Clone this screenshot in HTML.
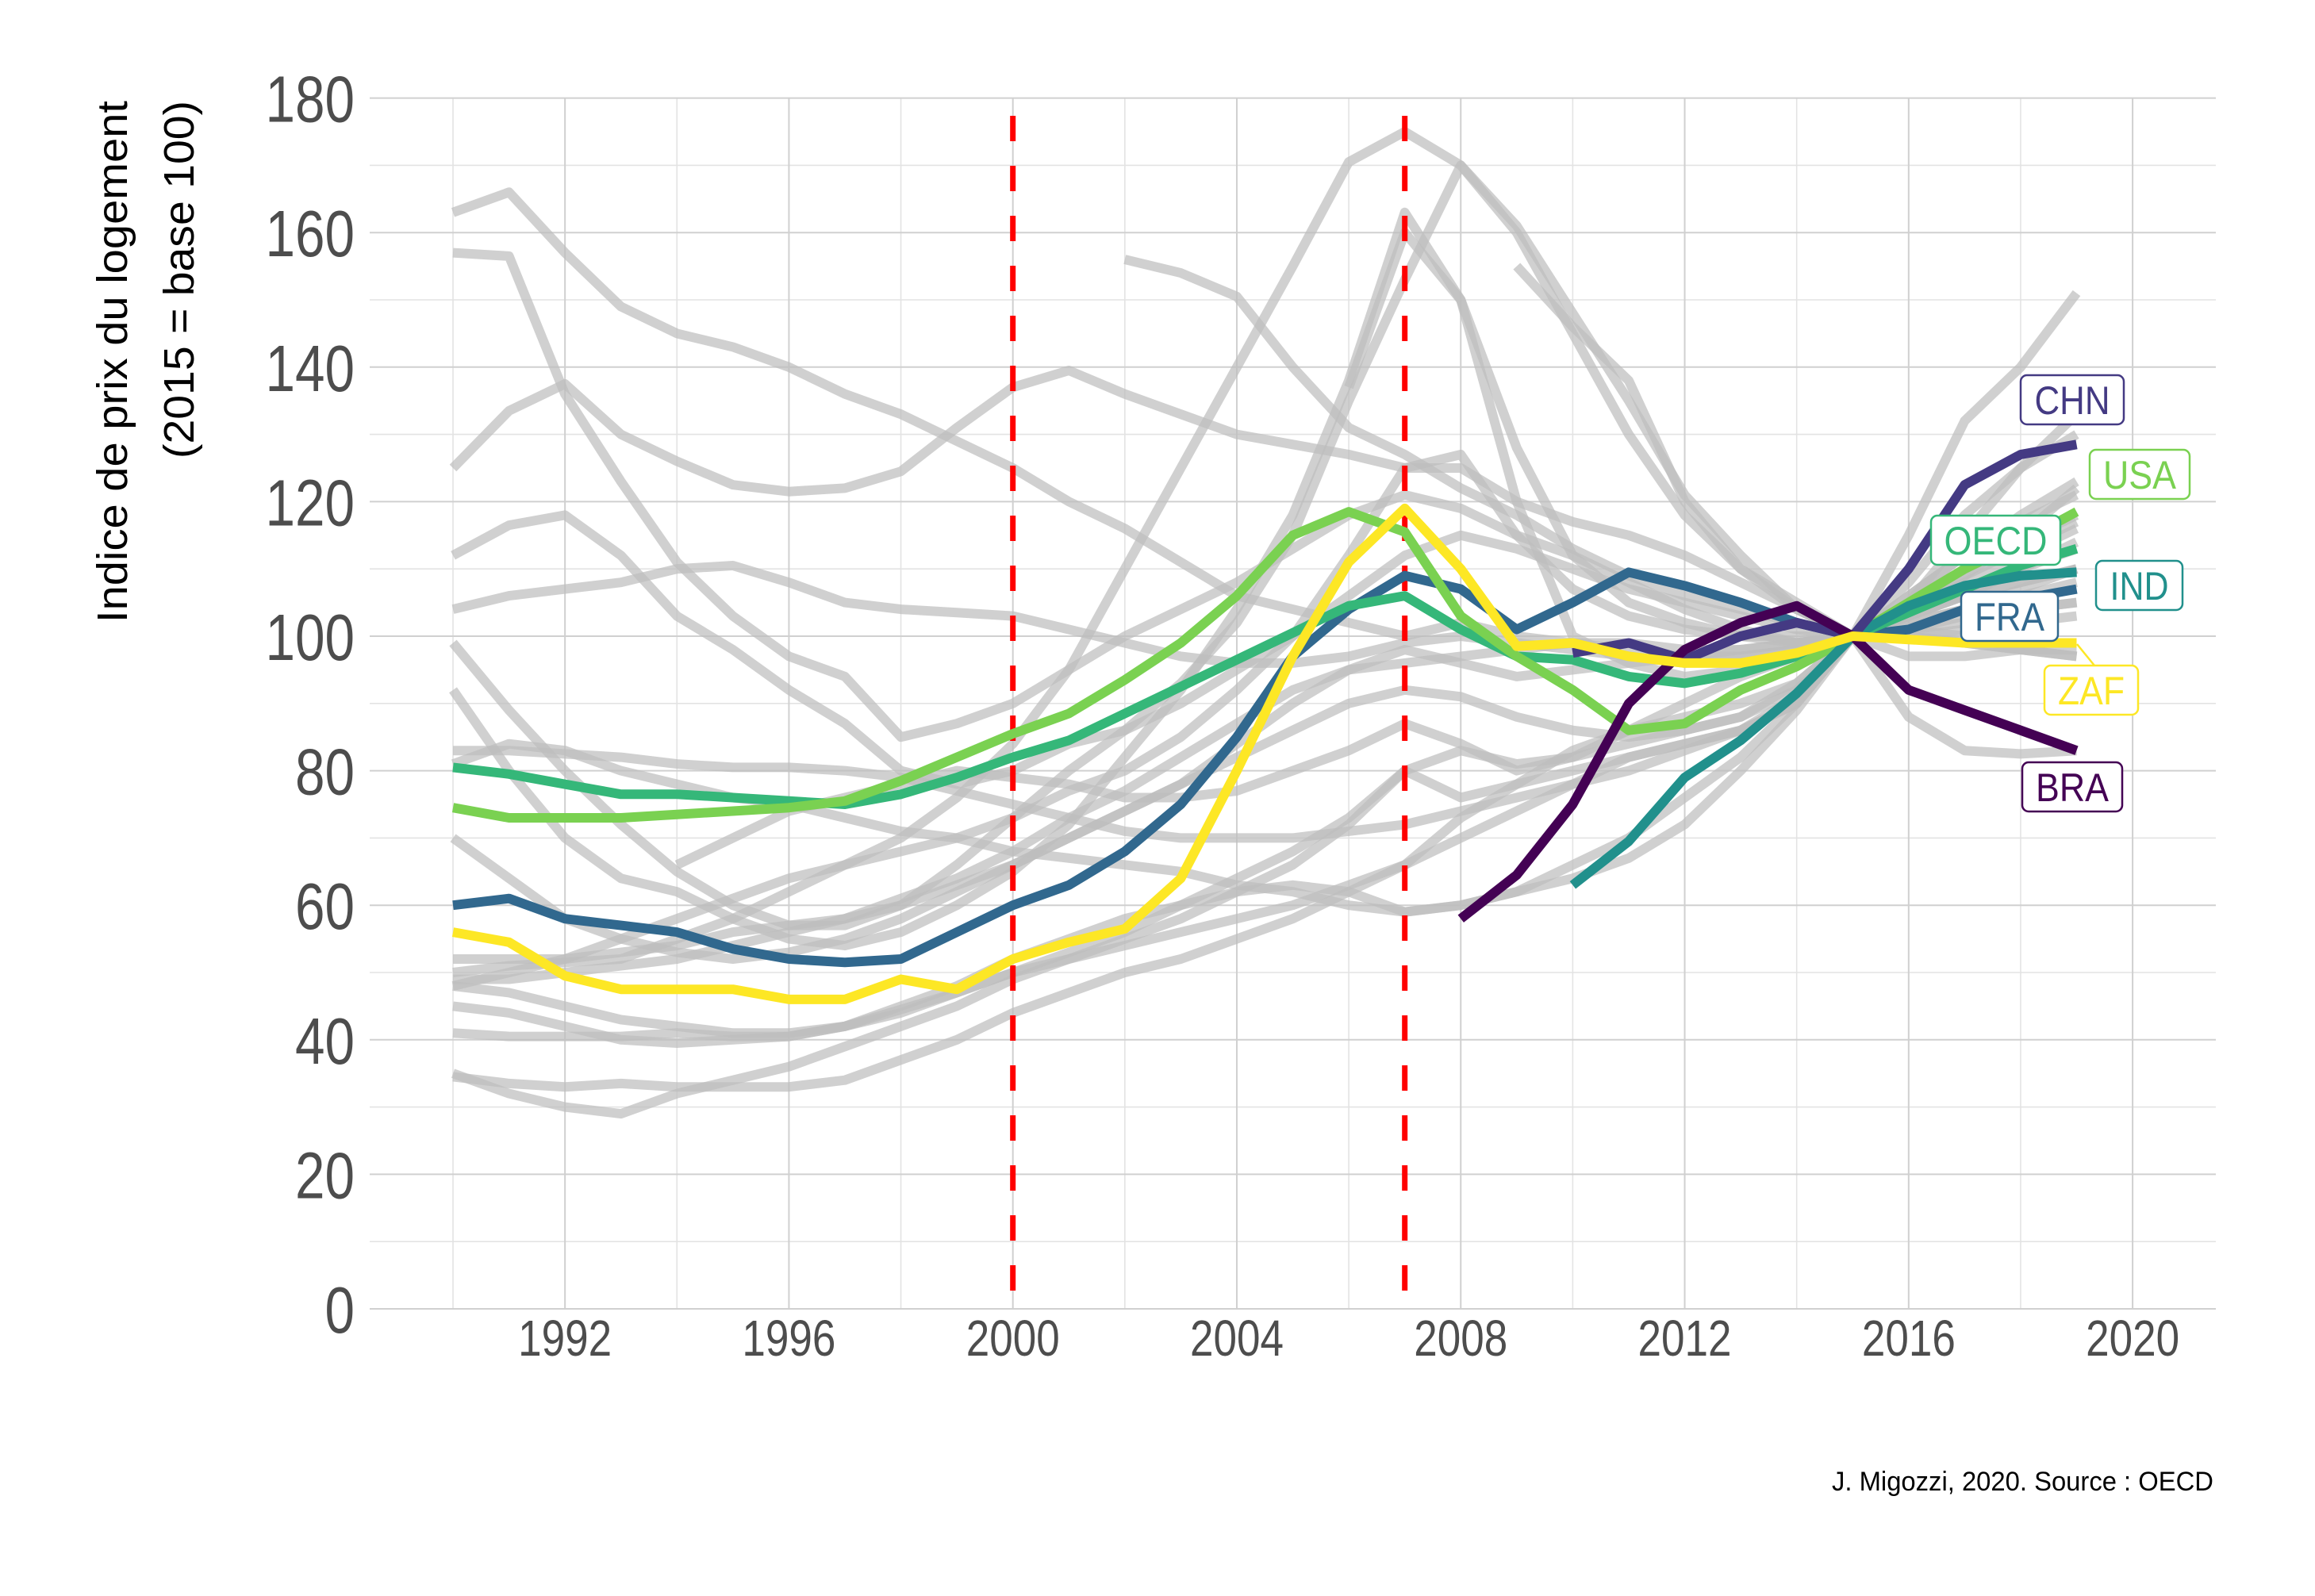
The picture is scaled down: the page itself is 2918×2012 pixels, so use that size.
<!DOCTYPE html>
<html><head><meta charset="utf-8"><style>
html,body{margin:0;padding:0;background:#fff;}
svg{display:block;}
.nar{font-family:"Liberation Sans Narrow","Liberation Sans",sans-serif;}
</style></head><body>
<svg id="chart" width="2918" height="2012" viewBox="0 0 2918 2012" xmlns="http://www.w3.org/2000/svg">
<rect width="2918" height="2012" fill="#fff"/>
<g id="grid"></g>
<g id="axes"></g>
<g id="grey"></g>
<g id="refs"></g>
<g id="hl"></g>
<g id="labels"></g>
<g font-family="Liberation Sans, sans-serif" font-size="54" fill="#000">
<text transform="translate(160,127) rotate(-90)" text-anchor="end" textLength="658" lengthAdjust="spacingAndGlyphs">Indice de prix du logement</text>
<text transform="translate(244,127) rotate(-90)" text-anchor="end" textLength="451" lengthAdjust="spacingAndGlyphs">(2015 = base 100)</text>
</g>
<text class="nar" x="2790" y="1879" font-size="34" text-anchor="end" fill="#000" textLength="481" lengthAdjust="spacingAndGlyphs">J. Migozzi, 2020. Source : OECD</text>
</svg>
<script>
const years = [1990,1991,1992,1993,1994,1995,1996,1997,1998,1999,2000,2001,2002,2003,2004,2005,2006,2007,2008,2009,2010,2011,2012,2013,2014,2015,2016,2017,2018,2019];
const yTicks = [0,20,40,60,80,100,120,140,160,180];
const xTicks = [1992,1996,2000,2004,2008,2012,2016,2020];
const refYears = [2000,2007];
const _ = null;
const FRA = [60,61,58,57,56,53.5,52,51.5,52,56,60,63,68,75,85,97,104,109,107,101,105,109.5,107.5,105,102,100,101,104,105.5,107];
const ZAF = [56,54.5,49.5,47.5,47.5,47.5,46,46,49,47.5,52,54.5,56.5,64,80,97,111,119,110,98.5,99,97,96,96,97.5,100,99.5,99,99,99];
const USA = [74.5,73,73,73,73.5,74,74.5,75.5,78.5,82,85.5,88.5,93.5,99,106,115,118.5,115.5,103,97,92,86,87,92,95.5,100,105,110,114,118.5];
const OECD = [80.5,79.5,78,76.5,76.5,76,75.5,75,76.5,79,82,84.5,88.5,92.5,96.5,100.5,104.5,106,101,97,96.5,94,93,94.5,97,100,103.5,107,110.5,113];
const IND = [_,_,_,_,_,_,_,_,_,_,_,_,_,_,_,_,_,_,_,_,63,69.5,79,84.5,91.5,100,104.5,107.5,109,109.5];
const CHN = [_,_,_,_,_,_,_,_,_,_,_,_,_,_,_,_,_,_,_,_,97.5,99,96.5,100,102,100,110,122.5,127,128.5];
const BRA = [_,_,_,_,_,_,_,_,_,_,_,_,_,_,_,_,_,_,58,64.5,75,90,98,102,104.5,100,92,89,86,83];
const G1 = [163,166,157,149,145,143,140,136,133,129,125,120,116,111,106,104,102,100,102,100,99,98,97,97,98,100,100,99,98,97];
const G2 = [157,156.5,136,123,111,103,97,94,85,87,90,95,100,104,108,113,118,121,119,115,112,108,104,101,99,100,104,109,113,117];
const G3 = [125,133.5,137.5,130,126,122.5,121.5,122,124.5,131,137,139.5,136,133,130,128.5,127,125,125,120,117,115,112,108,104,100,101,100,99,99];
const G4 = [112,116.5,118,112,103,98,92,87,80,78,80,84,86,90,95,100,106,112,115,113,110,107,105,103,101,100,103,106,110,113];
const G5 = [104,106,107,108,110,110.5,108,105,104,103.5,103,101,99,97,96,96,97,99,100,99,98,97,96,97,98,100,103,106,108,110];
const G6 = [99,89,80,72,65,60,57,57,60,66,73,80,86,93,102,115,135,153,170,161,148,135,121,112,104,100,103,109,115,122];
const G7 = [92,80,70,64,62,58,55,54,56,60,65,72,82,92,104,118,138,163,150,120,100,96,94,95,97,100,104,108,112,116];
const G8 = [83,83,82.5,82,81,80.5,80.5,80,79,77,75,73,71,70,70,70,71,72,74,76,78,80,83,86,91,100,115,132,140,151];
const G9 = [70,64,58,55,53,52,53,55,58,62,66,70,74,78,82,86,90,92,91,88,86,85,86,88,93,100,108,118,125,130];
const G10 = [49,49,50,51,52,54,56,58,61,64,68,73,77,82,87,92,95,96,97,98,99,99,98,98,99,100,100,99,98,97];
const G11 = [48,47,45,43,42,41,41,42,44,47,50,53,56,60,64,68,73,80,83,81,82,84,86,88,92,100,106,112,117,121];
const G12 = [45,44,42,40,39.5,40,40.5,42,44.5,47,50,52,54,56,58,60,63,66,70,74,78,82,84,86,90,100,88,83,82.5,83];
const G13 = [35,32,30,29,32,34,36,39,42,45,49,52,55,58,62,66,72,80,76,78,80,82,84,86,90,100,104,106,108,110];
const G14 = [34.5,33.5,33,33.5,33,33,33,34,37,40,44,47,50,52,55,58,62,66,73,78,83,86,88,90,93,100,105,110,114,118];
const G15 = [41,40.5,40.5,40.5,41,40.5,40.5,42,45,48,52,55,58,60,62,63,62,59,60,62,64,67,72,80,89,100,106,112,118,123];
const G16 = [_,_,_,_,_,_,_,_,_,_,_,_,156,154,150.5,140,131,127,122,118,113,109,106,104,102,100,100,101,102,103];
const G17 = [50,51,51.5,52,55,58,62,66,70,76,84,95,110,125,140,155,170.5,175,170,160,145,130,118,110,105,100,105,115,125,133];
const G18 = [_,_,_,_,_,_,_,_,_,_,_,_,_,_,_,_,_,_,_,155,146,138,120,110,104,100,101,103,104,105];
const G19 = [_,_,_,_,66,70,74,76,78,80,79,78,76,76,77,80,83,87,84,80,82,86,90,94,97,100,102,104,106,108];
const G20 = [81,84,83,80,78,76,75,73,71,70,68,67,66,65,63,62,60,59,60,62,66,70,76,82,90,100,97,97,98,98];
const G21 = [48,50,52,55,58,61,64,66,68,70,73,77,80,85,92,100,112,125,127,115,107,103,101,100,100,100,101,102,104,105];
const G22 = [_,_,_,_,_,_,_,_,_,_,_,_,_,_,_,_,137,160,150,128,112,105,102,100,99,100,102,104,107,110];
const G23 = [52,52,52,53,54,56,57,58,60,63,66,70,74,78,84,90,95,98,96,94,95,96,97,98,99,100,103,106,110,114];

const NS = "http://www.w3.org/2000/svg";
const X0 = 571, XS = 70.57, Y0 = 1650, YS = 8.48;
function xs(yr){ return X0 + (yr - 1990) * XS; }
function ys(v){ return Y0 - v * YS; }
function mk(tag, attrs, parent){ const e = document.createElementNS(NS, tag); for (const k in attrs) e.setAttribute(k, attrs[k]); parent.appendChild(e); return e; }
function pathD(vals){ let d = "", pen = false; vals.forEach((v,i)=>{ if (v === null){ pen = false; return; } d += (pen ? "L" : "M") + xs(years[i]).toFixed(1) + "," + ys(v).toFixed(1); pen = true; }); return d; }

const grid = document.getElementById('grid');
for (let v = 10; v <= 170; v += 20) {
  const l = mk('line', {x1:466, x2:2793, y1:ys(v), y2:ys(v), stroke:'#e3e3e3', 'stroke-width':1.6}, grid);
  
  
}
for (let yr = 1990; yr <= 2018; yr += 4) {
  const l = mk('line', {x1:xs(yr), x2:xs(yr), y1:ys(180), y2:Y0, stroke:'#e3e3e3', 'stroke-width':1.6}, grid);
  
  
}
const axes = document.getElementById('axes');
yTicks.forEach(v => {
  const l = mk('line', {x1:466, x2:2793, y1:ys(v), y2:ys(v), stroke:'#d0d0d0', 'stroke-width':2}, grid);
  
  
  const s = String(v);
  const t = mk('text', {x:447, y:ys(v) + 30, 'text-anchor':'end', 'font-size':83, fill:'#4d4d4d', class:'nar', textLength:(s.length*37.5), lengthAdjust:'spacingAndGlyphs'}, axes);
  t.textContent = s;
  
  
});
xTicks.forEach(yr => {
  const l = mk('line', {x1:xs(yr), x2:xs(yr), y1:ys(180), y2:Y0, stroke:'#d0d0d0', 'stroke-width':2}, grid);
  
  
  const t = mk('text', {x:xs(yr), y:1709, 'text-anchor':'middle', 'font-size':64, fill:'#4d4d4d', class:'nar', textLength:118, lengthAdjust:'spacingAndGlyphs'}, axes);
  t.textContent = yr;
  
  
});

const greyG = document.getElementById('grey');
[G1,G2,G3,G4,G5,G6,G7,G8,G9,G10,G11,G12,G13,G14,G15,G16,G17,G18,G19,G20,G21,G22,G23].forEach(s => {
  const p = mk('path', {d:pathD(s), fill:'none', stroke:'#bebebe', 'stroke-opacity':0.72, 'stroke-width':12, 'stroke-linejoin':'round'}, greyG);
  
  
});

const refs = document.getElementById('refs');
refYears.forEach(yr => {
  const l = mk('line', {x1:xs(yr), x2:xs(yr), y1:146, y2:Y0, stroke:'#ff0000', 'stroke-width':7, 'stroke-dasharray':'32 31'}, refs);
  
  
});

const hlG = document.getElementById('hl');
const series = [
  ['FRA', FRA, '#31688e'], ['OECD', OECD, '#35b779'], ['USA', USA, '#7ad151'],
  ['IND', IND, '#21908c'], ['CHN', CHN, '#443a83'], ['BRA', BRA, '#440154'], ['ZAF', ZAF, '#fde725']
];
series.forEach(([n, s, c]) => {
  const p = mk('path', {d:pathD(s), fill:'none', stroke:c, 'stroke-width':12, 'stroke-linejoin':'round'}, hlG);
  
  
});

const lab = document.getElementById('labels');
const zc = mk('line', {x1:2618, y1:812, x2:2640, y2:839, stroke:'#fde725', 'stroke-width':2.5}, lab);


const boxes = [
  ['CHN', '#443a83', 2547, 473, 130, 95], ['USA', '#7ad151', 2634, 567, 126, 92], ['OECD', '#35b779', 2434, 650, 163, 130],
  ['IND', '#21908c', 2642, 707, 109, 74], ['FRA', '#31688e', 2472, 746, 122, 88], ['ZAF', '#fde725', 2577, 839, 118, 84], ['BRA', '#440154', 2549, 961, 126, 92]
];
boxes.forEach(([n, c, x, y, w, tw]) => {
  const g = mk('g', {}, lab);
  
  
  mk('rect', {x:x, y:y, width:w, height:62, rx:8, fill:'#fff', stroke:c, 'stroke-width':2.5}, g);
  const t = mk('text', {x:x + w/2, y:y + 49, 'text-anchor':'middle', 'font-size':50, fill:c, class:'nar', textLength:tw, lengthAdjust:'spacingAndGlyphs'}, g);
  t.textContent = n;
});
</script>
</body></html>
